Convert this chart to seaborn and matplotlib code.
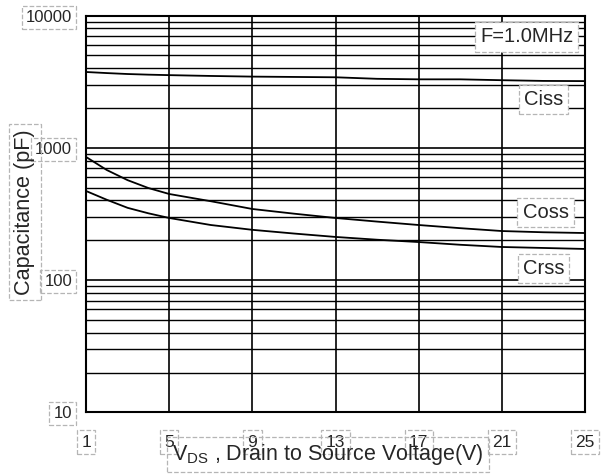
import numpy as np
import pandas as pd
import matplotlib
matplotlib.use("Agg")
import matplotlib.pyplot as plt
from matplotlib.ticker import LogLocator, FixedLocator, NullFormatter
import seaborn as sns

# Values (F = 1.0 MHz)
vds = [1, 2, 3, 4, 5, 7, 9, 11, 13, 15, 17, 19, 21, 23, 25]
ciss = [3750, 3680, 3620, 3580, 3550, 3500, 3460, 3440, 3420, 3330, 3300, 3300, 3250, 3210, 3200]
coss = [854, 680, 570, 497, 448, 395, 345, 318, 295, 277, 261, 247, 235, 230, 227]
crss = [472, 405, 352, 320, 295, 261, 240, 225, 212, 202, 194, 185, 178, 175, 172]

x_ticks = [1, 5, 9, 13, 17, 21, 25]
y_ticks = [10, 100, 1000, 10000]
y_tick_labels = ["10", "100", "1000", "10000"]

series_names = ["Ciss", "Coss", "Crss"]


def dashed_box(fill="none"):
    # Light dashed outline around text, as in the scanned datasheet
    return dict(boxstyle="square,pad=0.25", fc=fill, ec="#b5b5b5", ls="--", lw=0.9)


def main():
    sns.set_style("white")
    plt.rcParams["font.family"] = ["Liberation Sans", "DejaVu Sans"]
    plt.rcParams["mathtext.fontset"] = "custom"
    plt.rcParams["mathtext.rm"] = "Liberation Sans"

    df = pd.DataFrame({"vds": vds, "Ciss": ciss, "Coss": coss, "Crss": crss})

    fig = plt.figure(figsize=(6.02, 4.75), dpi=100)
    ax = fig.add_axes([0.1429, 0.132, 0.8289, 0.835])

    for name in series_names:
        sns.lineplot(data=df, x="vds", y=name, ax=ax, color="black", lw=1.3)

    ax.set_yscale("log")
    ax.set_xlim(1, 25)
    ax.set_ylim(10, 10000)

    # grid: major verticals, log minor horizontals
    ax.xaxis.set_major_locator(FixedLocator(x_ticks))
    ax.yaxis.set_major_locator(FixedLocator(y_ticks))
    ax.yaxis.set_minor_locator(LogLocator(base=10, subs=range(2, 10)))
    ax.yaxis.set_minor_formatter(NullFormatter())
    ax.grid(which="major", axis="both", color="black", lw=1.2)
    ax.grid(which="minor", axis="y", color="black", lw=1.0)
    ax.set_axisbelow(True)

    ax.set_yticklabels(y_tick_labels)
    ax.set_xticklabels([str(v) for v in x_ticks])
    ax.tick_params(axis="both", which="both", length=0)
    ax.tick_params(axis="y", pad=10, labelsize=12)
    ax.tick_params(axis="x", pad=16, labelsize=12.5)
    for lbl in ax.get_xticklabels() + ax.get_yticklabels():
        lbl.set_bbox(dashed_box())

    for side in ax.spines.values():
        side.set_color("black")
        side.set_linewidth(1.5)

    ax.set_xlabel(r"V$_{\mathrm{DS}}$ , Drain to Source Voltage(V)", fontsize=15.5,
                  bbox=dashed_box())
    ax.xaxis.set_label_coords(0.485, -0.075)
    ax.set_ylabel("Capacitance (pF)", fontsize=15.6, bbox=dashed_box())
    ax.yaxis.set_label_coords(-0.102, 0.505)

    # curve names and test condition, white boxes on the grid
    ax.text(22.2, 6900, "F=1.0MHz", fontsize=14.5, ha="center", va="center",
            bbox=dashed_box("white"), zorder=5)
    ax.text(23.0, 2340, "Ciss", fontsize=14.5, ha="center", va="center",
            bbox=dashed_box("white"), zorder=5)
    ax.text(23.1, 322, "Coss", fontsize=14.5, ha="center", va="center",
            bbox=dashed_box("white"), zorder=5)
    ax.text(23.0, 123, "Crss", fontsize=14.5, ha="center", va="center",
            bbox=dashed_box("white"), zorder=5)

    fig.savefig("out.png", dpi=100)


if __name__ == "__main__":
    main()
